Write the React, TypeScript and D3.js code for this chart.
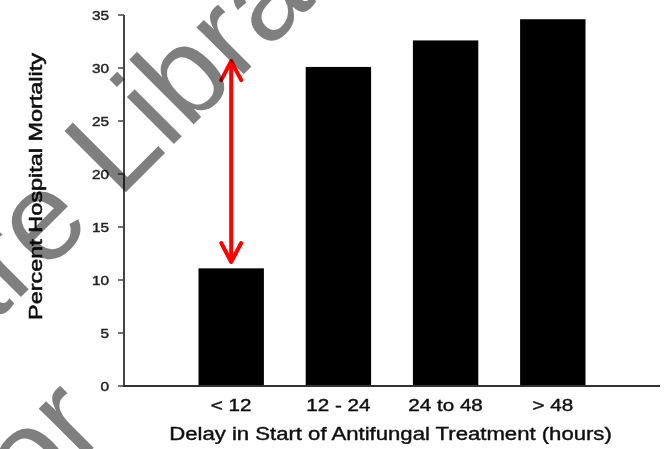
import React from "react";
import * as d3 from "d3";

const categories = ["< 12", "12 - 24", "24 to 48", "> 48"];
const mortality = [11.1, 30.1, 32.6, 34.6];
const yTicks = [0, 5, 10, 15, 20, 25, 30, 35];
const arrowFrom = 11.7;
const arrowTo = 30.65;
const xTitle = "Delay in Start of Antifungal Treatment (hours)";
const yTitle = "Percent Hospital Mortality";

const W = 670;
const H = 449;
const FONT = "'Liberation Sans', Arial, Helvetica, sans-serif";
const SX = 1.23;

export default function App() {
  const x = d3
    .scaleBand<string>()
    .domain(categories)
    .range([124, 660])
    .paddingInner(0.39)
    .paddingOuter(0.695);
  const y = d3.scaleLinear().domain([0, 35]).range([386, 15]);
  const ax = x(categories[0])! + x.bandwidth() / 2;
  const yTop = y(arrowTo);
  const yBot = y(arrowFrom);

  return (
    <svg
      width={W}
      height={H}
      style={{ position: "absolute", left: 0, top: 0, background: "#fff" }}
    >
      <defs>
        <filter id="soft" x="-5%" y="-5%" width="110%" height="110%">
          <feGaussianBlur stdDeviation={0.55} />
        </filter>
      </defs>
      <rect x={0} y={0} width={W} height={H} fill="#fff" />
      <g filter="url(#soft)">
        {/* bars */}
        {categories.map((c, i) => (
          <rect
            key={c}
            x={x(c)}
            y={y(mortality[i])}
            width={x.bandwidth()}
            height={y(0) - y(mortality[i])}
            fill="#000"
          />
        ))}
        {/* y axis */}
        <line x1={124} x2={124} y1={y(35)} y2={y(0)} stroke="#444" strokeWidth={2} />
        {yTicks.map((t) => (
          <g key={t}>
            <line x1={118} x2={124} y1={y(t)} y2={y(t)} stroke="#444" strokeWidth={1.5} />
            <text
              transform={`translate(109,${y(t) + 4.5}) scale(${SX},1)`}
              textAnchor="end"
              fontFamily={FONT}
              fontSize={12.5}
              fill="#222"
              stroke="#222"
              strokeWidth={0.4}
            >
              {t}
            </text>
          </g>
        ))}
        {/* x axis */}
        <line x1={123} x2={660} y1={y(0)} y2={y(0)} stroke="#333" strokeWidth={2} />
        {categories.map((c) => (
          <text
            key={c}
            transform={`translate(${x(c)! + x.bandwidth() / 2},411) scale(${SX + 0.02},1)`}
            textAnchor="middle"
            fontFamily={FONT}
            fontSize={16.5}
            fill="#111"
            stroke="#111"
            strokeWidth={0.4}
          >
            {c}
          </text>
        ))}
        <text
          transform={`translate(390.5,440) scale(${SX},1)`}
          textAnchor="middle"
          fontFamily={FONT}
          fontSize={18}
          fill="#111"
          stroke="#111"
          strokeWidth={0.4}
        >
          {xTitle}
        </text>
        <text
          transform={`translate(42,186.5) rotate(-90)`}
          textAnchor="middle"
          fontFamily={FONT}
          fontSize={17.5}
          fill="#111"
          stroke="#111"
          strokeWidth={0.5}
          textLength={267}
          lengthAdjust="spacingAndGlyphs"
        >
          {yTitle}
        </text>
        {/* red double arrow */}
        <g stroke="#ff0000" strokeWidth={4} fill="none" strokeLinecap="round" strokeLinejoin="round">
          <line x1={ax} x2={ax} y1={yTop + 1} y2={yBot - 1} />
          <polyline points={`${ax - 10},${yTop + 19} ${ax},${yTop} ${ax + 10},${yTop + 19}`} />
          <polyline points={`${ax - 10},${yBot - 19} ${ax},${yBot} ${ax + 10},${yBot - 19}`} />
        </g>
        {/* watermark */}
        <g
          transform="translate(125,193) rotate(-45)"
          fontFamily={FONT}
          fontSize={126}
          fill="#000"
          opacity={0.5}
        >
          <text x={-9.2} y={0}>Library</text>
          <text x={-44} y={0} textAnchor="end">are</text>
          <text x={-180} y={158} textAnchor="end">for</text>
        </g>
      </g>
    </svg>
  );
}
